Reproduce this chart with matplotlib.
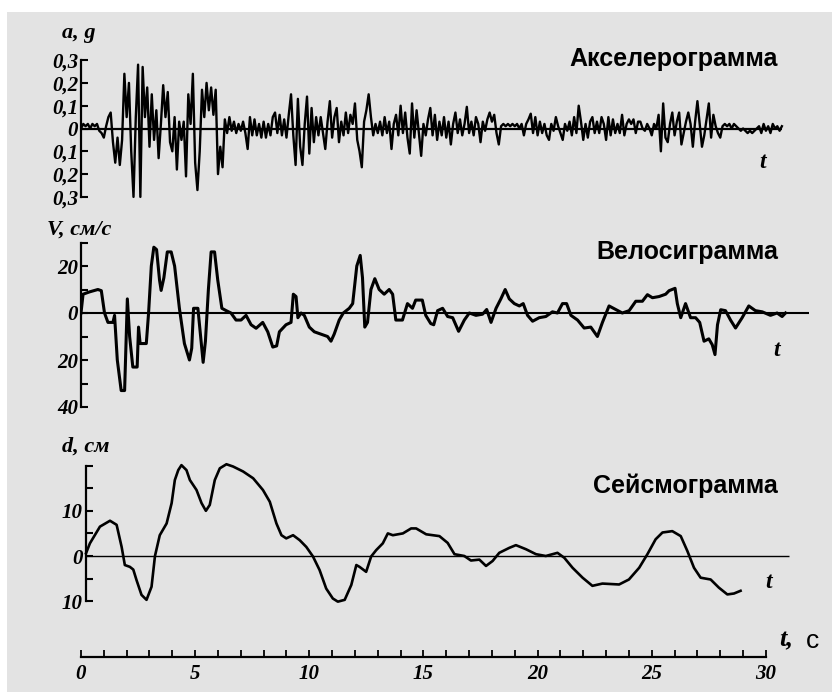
import numpy as np
import matplotlib
matplotlib.use("Agg")
import matplotlib.pyplot as plt
from matplotlib.patches import Rectangle
from matplotlib.ticker import FixedLocator, FixedFormatter

acc_dt = 0.1
acc_g = [
    0.00, 0.02, 0.01, 0.02, 0.00, 0.02, 0.01, 0.02, -0.01, -0.02,
    -0.04, 0.01, 0.05, 0.07, -0.06, -0.15, -0.04, -0.16, -0.05, 0.24,
    0.05, 0.20, -0.10, -0.30, 0.05, 0.28, -0.30, 0.27, 0.05, 0.18,
    -0.08, 0.15, -0.05, 0.08, -0.13, 0.02, 0.19, 0.05, 0.16, -0.06,
    -0.10, 0.05, -0.18, 0.03, -0.05, 0.03, -0.21, 0.15, 0.02, 0.24,
    -0.15, -0.27, -0.10, 0.17, 0.05, 0.20, 0.08, 0.18, 0.06, 0.17,
    -0.20, -0.08, -0.17, 0.04, -0.02, 0.05, -0.01, 0.03, -0.02, 0.02,
    -0.01, 0.03, -0.02, -0.09, 0.05, -0.03, 0.04, -0.03, 0.02, -0.04,
    0.03, -0.04, 0.02, -0.03, 0.05, 0.07, -0.02, 0.06, -0.03, 0.04,
    -0.04, 0.06, 0.15, -0.03, -0.16, 0.13, -0.08, -0.16, 0.02, 0.14,
    -0.11, 0.09, -0.06, 0.05, -0.03, 0.05, -0.02, -0.09, 0.03, 0.12,
    -0.04, 0.05, 0.09, -0.06, 0.03, -0.03, 0.07, -0.02, 0.06, 0.02,
    0.11, -0.05, -0.10, -0.17, 0.03, 0.08, 0.15, 0.05, -0.03, 0.02,
    -0.02, 0.03, -0.03, 0.05, -0.02, 0.03, -0.09, 0.02, 0.06, -0.03,
    0.10, -0.02, 0.07, -0.04, -0.11, 0.11, -0.04, 0.08, -0.02, -0.12,
    0.02, -0.03, 0.04, 0.09, -0.03, 0.06, -0.05, 0.03, -0.03, 0.05,
    -0.04, 0.03, -0.07, 0.02, 0.07, -0.02, 0.04, -0.03, 0.02, 0.095,
    -0.02, 0.03, -0.03, 0.05, 0.02, -0.06, 0.03, -0.01, 0.04, 0.07,
    0.03, 0.06, -0.02, -0.07, 0.01, 0.02, 0.01, 0.02, 0.01, 0.02,
    0.01, 0.02, 0.00, 0.02, -0.03, 0.02, 0.04, 0.065, -0.02, 0.05,
    -0.03, 0.03, -0.02, 0.02, -0.03, -0.05, 0.02, -0.01, 0.05, 0.01,
    -0.02, -0.05, 0.02, -0.01, 0.03, -0.03, 0.05, -0.02, 0.10, 0.03,
    -0.05, 0.02, -0.04, 0.03, 0.05, -0.02, 0.03, -0.02, 0.05, 0.02,
    -0.05, 0.05, -0.03, 0.04, -0.02, 0.02, -0.02, 0.06, -0.03, 0.02,
    0.04, 0.02, 0.04, -0.02, 0.03, 0.03, 0.00, -0.01, 0.02, 0.00,
    -0.03, 0.02, 0.00, 0.06, -0.10, 0.11, -0.04, -0.06, 0.02, 0.07,
    -0.03, 0.03, 0.07, -0.07, -0.02, 0.03, 0.07, 0.02, -0.08, 0.03,
    0.12, 0.02, -0.08, -0.03, 0.04, 0.11, -0.04, 0.06, 0.01, -0.02,
    -0.04, 0.01, 0.02, 0.01, 0.02, 0.00, 0.02, 0.01, 0.00, -0.01,
    0.00, -0.01, -0.02, -0.01, -0.02, -0.01, 0.00, 0.01, -0.02, 0.02,
    -0.01, 0.01, -0.02, 0.02, 0.00, 0.01, -0.01, 0.01,
]

# velocigram, cm/s
vel_t = [
    0.0, 0.09, 0.38, 0.74, 0.89, 1.03, 1.18, 1.40, 1.47, 1.59,
    1.76, 1.91, 2.03, 2.13, 2.27, 2.46, 2.52, 2.59, 2.86, 2.96,
    3.08, 3.19, 3.31, 3.44, 3.51, 3.63, 3.78, 3.95, 4.10, 4.31,
    4.53, 4.75, 4.85, 4.93, 5.12, 5.22, 5.35, 5.45, 5.58, 5.70,
    5.85, 5.99, 6.17, 6.36, 6.57, 6.79, 7.01, 7.23, 7.45, 7.67,
    7.96, 8.18, 8.40, 8.57, 8.69, 8.98, 9.20, 9.30, 9.42, 9.50,
    9.64, 9.78, 10.0, 10.22, 10.51, 10.80, 10.95, 11.09, 11.31, 11.49,
    11.75, 11.90, 12.08, 12.23, 12.33, 12.43, 12.55, 12.70, 12.87, 13.06,
    13.28, 13.50, 13.65, 13.79, 14.08, 14.30, 14.52, 14.66, 14.95, 15.10,
    15.32, 15.45, 15.62, 15.84, 16.06, 16.28, 16.54, 16.79, 17.01, 17.30,
    17.59, 17.77, 17.96, 18.18, 18.39, 18.58, 18.76, 18.98, 19.20, 19.37,
    19.56, 19.78, 20.07, 20.36, 20.65, 20.87, 21.09, 21.27, 21.46, 21.75,
    22.04, 22.33, 22.62, 22.84, 23.13, 23.42, 23.71, 24.01, 24.30, 24.59,
    24.81, 25.03, 25.32, 25.61, 25.76, 26.02, 26.12, 26.27, 26.48, 26.70,
    26.92, 27.10, 27.29, 27.50, 27.65, 27.77, 27.88, 28.02, 28.23, 28.45,
    28.67, 28.96, 29.25, 29.54, 29.84, 30.20, 30.49, 30.71, 30.86,
]
vel_cms = [
    0, 8, 9, 10, 9.5, 0, -4, -4, -1, -20,
    -33, -33, 6, -10, -23, -23, -6, -13, -13, 0,
    20, 28, 27, 14, 9.6, 15, 26, 26, 20, 2,
    -13, -20, -15, 2, 2, -8, -21, -12, 10, 26,
    26, 14, 2, 1, 0, -3, -3, -1, -5, -6.5,
    -4, -8, -14.5, -14, -8, -5, -4, 8, 7, -2,
    0, -1, -6, -8, -9, -10, -12, -9, -3, 0,
    2, 4, 20, 24.5, 15, -6, -4, 10, 14.6, 10,
    8, 10, 8, -3, -3, 4, 2, 5.5, 5.5, -1,
    -4.5, -5, 1, 2, -1.5, -2, -7.8, -3, 0, -1,
    -0.5, 1.5, -4, 2, 6, 10, 6, 4, 3, 4,
    -1, -3.5, -2, -1.5, 0.5, 0, 4, 4, -1, -3,
    -6.4, -6, -10, -4, 3, 1.5, 0, 1, 5, 5,
    7.8, 6.5, 7, 8, 9.5, 10.5, 4, -2, 4, -2,
    -2, -4, -12, -11, -13.5, -17.7, -5, 1.4, 1, -3,
    -6.4, -2, 3, 1, 0.5, -1, 0, -1.5, 0,
]

# seismogram, cm
disp_t = [
    0.22, 0.39, 0.83, 1.27, 1.56, 1.78, 1.92, 2.14, 2.29, 2.43,
    2.65, 2.87, 3.09, 3.24, 3.45, 3.75, 3.97, 4.11, 4.26, 4.40,
    4.62, 4.77, 5.06, 5.28, 5.47, 5.64, 5.86, 6.08, 6.37, 6.66,
    7.10, 7.54, 7.97, 8.27, 8.56, 8.78, 8.99, 9.29, 9.58, 9.87,
    10.16, 10.45, 10.74, 11.03, 11.25, 11.55, 11.84, 12.06, 12.20, 12.49,
    12.71, 12.93, 13.22, 13.44, 13.66, 14.10, 14.46, 14.68, 15.12, 15.70,
    16.06, 16.36, 16.79, 17.08, 17.45, 17.74, 18.03, 18.32, 18.76, 19.05,
    19.49, 19.93, 20.36, 20.87, 21.17, 21.53, 21.97, 22.40, 22.84, 23.57,
    24.00, 24.45, 24.81, 25.17, 25.47, 25.90, 26.27, 26.56, 26.85, 27.14,
    27.58, 27.94, 28.31, 28.60, 28.89,
]
disp_cm = [
    0.6, 2.8, 6.5, 7.8, 6.9, 2, -2, -2.4, -3, -5.3,
    -8.6, -9.7, -6.8, 0, 4.6, 7.2, 11.7, 16.8, 19, 20.1,
    19, 16.8, 14.6, 11.7, 10, 11.3, 16.8, 19.4, 20.3, 19.8,
    18.7, 17.2, 14.6, 12, 7.2, 4.6, 3.9, 4.6, 3.5, 2,
    -0.1, -3.1, -7.2, -9.4, -10.1, -9.7, -6.4, -2, -2.4, -3.5,
    -0.1, 1.3, 2.8, 5, 4.6, 5, 6.1, 6.1, 4.8, 4.4,
    2.9, 0.4, 0, -1, -0.8, -2.2, -1.1, 0.7, 1.8, 2.4,
    1.5, 0.4, 0, 0.7, -0.4, -2.6, -4.8, -6.6, -6.1, -6.3,
    -5.2, -2.6, 0.4, 3.7, 5.2, 5.5, 4.4, 1.1, -2.6, -4.8,
    -5.2, -7, -8.5, -8.3, -7.7,
]

acc_ticks = [-0.3, -0.2, -0.1, 0, 0.1, 0.2, 0.3]
acc_ticklabels = ['0,3', '0,2', '0,1', '0', '0,1', '0,2', '0,3']
vel_ticks = [-40, -30, -20, -10, 0, 10, 20, 30]
vel_ticklabels = ['40', '', '20', '', '0', '', '20', '']
disp_ticks = [-10, -5, 0, 5, 10, 15, 20]
disp_ticklabels = ['10', '', '0', '', '10', '', '']
time_ticks = list(range(0, 31))
time_ticklabels = ['0', '', '', '', '', '5', '', '', '', '', '10', '', '', '', '', '15',
                   '', '', '', '', '20', '', '', '', '', '25', '', '', '', '', '30']

titles = ['Акселерограмма', 'Велосиграмма', 'Сейсмограмма']
ylabels = ['a, g', 'V, см/с', 'd, см']

# layout in pixels of the 832x692 picture
W, H = 832, 692
X0, X1 = 81, 815
PX_PER_S = 22.83
BG = '#e3e3e3'
SERIF = 'Liberation Serif'
SANS = 'Liberation Sans'

plt.rcParams['font.family'] = SERIF
plt.rcParams['font.style'] = 'italic'
plt.rcParams['font.weight'] = 'bold'


def box(top, bottom):
    return [X0 / W, 1 - bottom / H, (X1 - X0) / W, (bottom - top) / H]


def fx(px):
    return px / W


def fy(py):
    return 1 - py / H


def panel(fig, top, bottom, zero_px, px_per_unit, ticks, labels):
    ax = fig.add_axes(box(top, bottom))
    ax.set_facecolor('none')
    ax.set_xlim(0, (X1 - X0) / PX_PER_S)
    ax.set_ylim(-(bottom - zero_px) / px_per_unit, (zero_px - top) / px_per_unit)
    for s in ['top', 'right', 'bottom']:
        ax.spines[s].set_visible(False)
    ax.spines['left'].set_linewidth(1.6)
    ax.spines['left'].set_bounds(ticks[0], ticks[-1])
    ax.set_xticks([])
    ax.yaxis.set_major_locator(FixedLocator(ticks))
    ax.yaxis.set_major_formatter(FixedFormatter(labels))
    ax.tick_params(axis='y', direction='in', length=5, width=1.5, pad=2,
                   labelsize=15)
    return ax


fig = plt.figure(figsize=(W / 100, H / 100), dpi=100, facecolor='white')
fig.patches.append(Rectangle((fx(7), 0), 1, fy(12), transform=fig.transFigure,
                             facecolor=BG, edgecolor='none', zorder=-10))

# accelerogram
ax1 = panel(fig, 40, 216, 128.5, 228, acc_ticks, acc_ticklabels)
acc_t = np.arange(len(acc_g)) * acc_dt
ax1.hlines(0, 0, acc_t[-1], color='black', lw=1.6)
ax1.plot(acc_t, acc_g, color='black', lw=1.7)

# velocigram
ax2 = panel(fig, 236, 420, 313, 2.35, vel_ticks, vel_ticklabels)
ax2.hlines(0, 0, 31.9, color='black', lw=1.5)
ax2.plot(vel_t, vel_cms, color='black', lw=2.2, solid_joinstyle='round')

# seismogram
ax3 = panel(fig, 455, 615, 556, 4.52, disp_ticks, disp_ticklabels)
ax3.spines['left'].set_position(('data', 0.2))
ax3.hlines(0, 0.2, 31.0, color='black', lw=1.0)
ax3.plot(disp_t, disp_cm, color='black', lw=1.9, solid_joinstyle='round')

# shared time axis
axt = fig.add_axes(box(630, 657))
axt.set_facecolor('none')
axt.set_xlim(0, (X1 - X0) / PX_PER_S)
axt.set_yticks([])
for s in ['top', 'right', 'left']:
    axt.spines[s].set_visible(False)
axt.spines['bottom'].set_linewidth(1.6)
axt.spines['bottom'].set_bounds(0, 30)
axt.xaxis.set_major_locator(FixedLocator(time_ticks))
axt.xaxis.set_major_formatter(FixedFormatter(time_ticklabels))
axt.tick_params(axis='x', direction='in', length=5, width=1.3, pad=5, labelsize=15)

# titles, units and t marks
for text, py in zip(titles, [59, 252, 486]):
    fig.text(fx(778), fy(py), text, ha='right', va='center', fontsize=18,
             family=SANS, style='normal', weight='bold')
for text, px, py in zip(ylabels, [62, 47, 62], [33, 230, 447]):
    fig.text(fx(px), fy(py), text, ha='left', va='center', fontsize=16)
for px, py in [(763, 163), (777, 350), (769, 582)]:
    fig.text(fx(px), fy(py), 't', ha='center', va='center', fontsize=17)
fig.text(fx(779), fy(640), 't,', ha='left', va='center', fontsize=19)
fig.text(fx(806), fy(641), 'с', ha='left', va='center', fontsize=19,
         family=SANS, style='normal', weight='normal')

fig.savefig('out.png', dpi=100, facecolor=fig.get_facecolor())
